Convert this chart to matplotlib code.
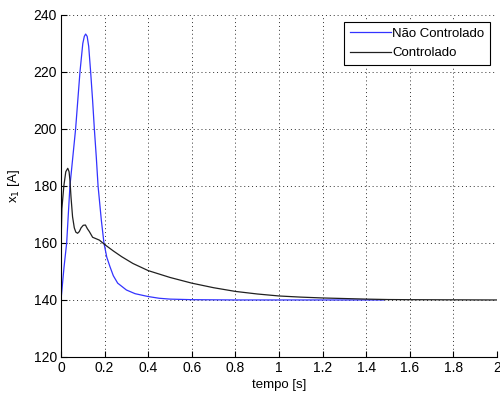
import matplotlib
matplotlib.use("Agg")
import matplotlib.pyplot as plt

plt.rcParams['font.family'] = ['Liberation Sans', 'DejaVu Sans']

# Nao Controlado (blue)
t_nc = [0, 0.014, 0.026, 0.041, 0.054, 0.067, 0.077, 0.087, 0.1, 0.107, 0.113,
        0.12, 0.127, 0.136, 0.145, 0.153, 0.162, 0.17, 0.185, 0.197, 0.21, 0.225,
        0.24, 0.26, 0.3, 0.34, 0.4, 0.45, 0.5, 0.6, 0.8, 1.0, 1.48]
x_nc = [140, 151.6, 160, 180, 190, 200, 210, 220, 230, 232.5, 233.3,
        232.5, 229, 220, 210, 200, 190, 180, 168, 160, 155, 151.6,
        148.5, 145.9, 143.5, 142.2, 141.2, 140.6, 140.3, 140.1, 140, 140, 140]

# Controlado (black)
t_c = [0, 0.001, 0.004, 0.013, 0.022, 0.031, 0.037, 0.041, 0.046, 0.053, 0.061,
       0.068, 0.076, 0.084, 0.092, 0.102, 0.112, 0.121, 0.13, 0.145, 0.176, 0.203,
       0.24, 0.278, 0.33, 0.4, 0.5, 0.6, 0.7, 0.8, 0.9, 1.0,
       1.1, 1.2, 1.3, 1.4, 1.5, 1.6, 1.8, 2.0]
x_c = [152, 162, 172, 180, 185, 186.2, 185, 182, 176, 169.2, 165.3,
       163.8, 163.4, 164, 165.3, 166.2, 166.3, 165, 164, 162, 161, 159.3,
       157.2, 155.2, 152.8, 150.3, 147.9, 145.9, 144.3, 143.0, 142.1, 141.4,
       141, 140.7, 140.5, 140.3, 140.15, 140.1, 140.05, 140]

fig = plt.figure(figsize=(5, 3.94), dpi=100)
ax = fig.add_axes([0.122, 0.094, 0.872, 0.868])

ax.plot(t_nc, x_nc, color='#3333ff', lw=0.9, label='Não Controlado')
ax.plot(t_c, x_c, color='#202020', lw=0.9, label='Controlado')

ax.set_xlim(0, 2)
ax.set_ylim(120, 240)
ax.set_xticks([0, 0.2, 0.4, 0.6, 0.8, 1, 1.2, 1.4, 1.6, 1.8, 2])
ax.set_xticklabels(['0', '0.2', '0.4', '0.6', '0.8', '1', '1.2', '1.4', '1.6', '1.8', '2'])
ax.set_yticks([120, 140, 160, 180, 200, 220, 240])
ax.grid(True, linestyle=(0, (1, 3)), color='#303030', lw=0.7)
ax.tick_params(direction='in', labelsize=10, length=4, width=0.8, pad=3)
for s in ['top', 'right']:
    ax.spines[s].set_visible(False)
ax.set_xlabel('tempo [s]', fontsize=9.5, labelpad=3)
ax.set_ylabel('x$_1$ [A]', fontsize=9.5, labelpad=8)

leg = ax.legend(loc='upper right', fontsize=9.5, fancybox=False, framealpha=1,
                edgecolor='black', handlelength=3.1, handletextpad=0.1,
                borderaxespad=0.5, labelspacing=0.55, borderpad=0.45)
leg.get_frame().set_linewidth(0.8)

fig.savefig('out.png', dpi=100)
